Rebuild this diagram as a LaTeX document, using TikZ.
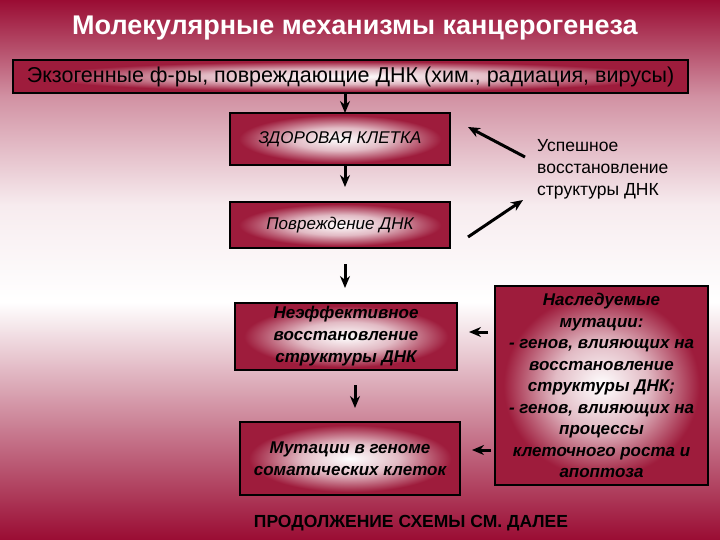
\documentclass[tikz,border=0pt]{standalone}
\usepackage{fontspec}
\setmainfont{Liberation Sans}
\usetikzlibrary{arrows.meta}
\definecolor{bgred}{HTML}{9A0C33}
\definecolor{boxred}{HTML}{9E1C3C}
\pgfdeclareverticalshading{bgsh}{100bp}{color(0bp)=(bgred); color(25bp)=(bgred); color(35bp)=(bgred!55!white); color(47bp)=(white); color(56bp)=(bgred!8!white); color(66bp)=(bgred!45!white); color(75bp)=(bgred); color(100bp)=(bgred)}
\pgfdeclareradialshading{boxsh}{\pgfpoint{0bp}{0bp}}{color(0bp)=(white); color(11bp)=(boxred!30!white); color(23bp)=(boxred); color(50bp)=(boxred)}
\tikzset{
 box/.style={draw=black, line width=1.8pt, shading=boxsh, align=center, inner sep=2pt, font=\fontsize{17}{21}\selectfont\itshape},
 arr/.style={-{Stealth[length=12pt,width=10pt]}, line width=3pt},
}
\begin{document}
\begin{tikzpicture}[x=1pt,y=-1pt]
\shade[shading=bgsh] (0,0) rectangle (720,540);
\useasboundingbox (0,0) rectangle (720,540);
\node[text=white,font=\fontsize{27}{30}\selectfont\bfseries] (title) at (355,28) {Молекулярные механизмы канцерогенеза};
\node[box, font=\fontsize{21.5}{22}\selectfont, minimum width=675pt, minimum height=33pt] (exo) at (350.5,76.5) {Экзогенные ф-ры, повреждающие ДНК (хим., радиация, вирусы)};
\node[box, minimum width=220pt, minimum height=52pt] (healthy) at (340,139) {ЗДОРОВАЯ КЛЕТКА};
\node[box, minimum width=220pt, minimum height=46pt] (damage) at (340,225) {Повреждение ДНК};
\node[box, font=\fontsize{17}{22}\selectfont\bfseries\itshape, minimum width=222pt, minimum height=67pt] (ineff) at (346,336.5) {Неэффективное\\восстановление\\структуры ДНК};
\node[box, font=\fontsize{17}{22}\selectfont\bfseries\itshape, minimum width=220pt, minimum height=73pt] (mut) at (350,458.5) {Мутации в геноме\\соматических клеток};
\node[box, font=\fontsize{17}{21.5}\selectfont\bfseries\itshape, minimum width=213pt, minimum height=199pt] (inh) at (601.5,385.5) {Наследуемые\\мутации:\\- генов, влияющих на\\восстановление\\структуры ДНК;\\- генов, влияющих на\\процессы\\клеточного роста и\\апоптоза};
\node[align=left, anchor=north west, font=\fontsize{17.5}{22}\selectfont, inner sep=0pt] (succ) at (537,139) {Успешное\\восстановление\\структуры ДНК};
\node[font=\fontsize{17.5}{20}\selectfont\bfseries] (cont) at (411,523) {ПРОДОЛЖЕНИЕ СХЕМЫ СМ. ДАЛЕЕ};
\coordinate (e1) at (345,93); \coordinate (e2) at (345,113);
\coordinate (h1) at (345,165); \coordinate (h2) at (345,187);
\coordinate (a1) at (345,264); \coordinate (a2) at (345,288);
\coordinate (b1) at (355,385); \coordinate (b2) at (355,408);
\coordinate (s1) at (525,157); \coordinate (s1e) at (468,127);
\coordinate (s2) at (468,237); \coordinate (s2e) at (523,200);
\coordinate (l1) at (488,332); \coordinate (l1e) at (469,332);
\coordinate (l2) at (491,450); \coordinate (l2e) at (472,450);
\draw[arr] (e1) -- (e2);
\draw[arr] (h1) -- (h2);
\draw[arr] (a1) -- (a2);
\draw[arr] (b1) -- (b2);
\draw[arr] (s1) -- (s1e);
\draw[arr] (s2) -- (s2e);
\draw[arr] (l1) -- (l1e);
\draw[arr] (l2) -- (l2e);
\end{tikzpicture}
\end{document}
